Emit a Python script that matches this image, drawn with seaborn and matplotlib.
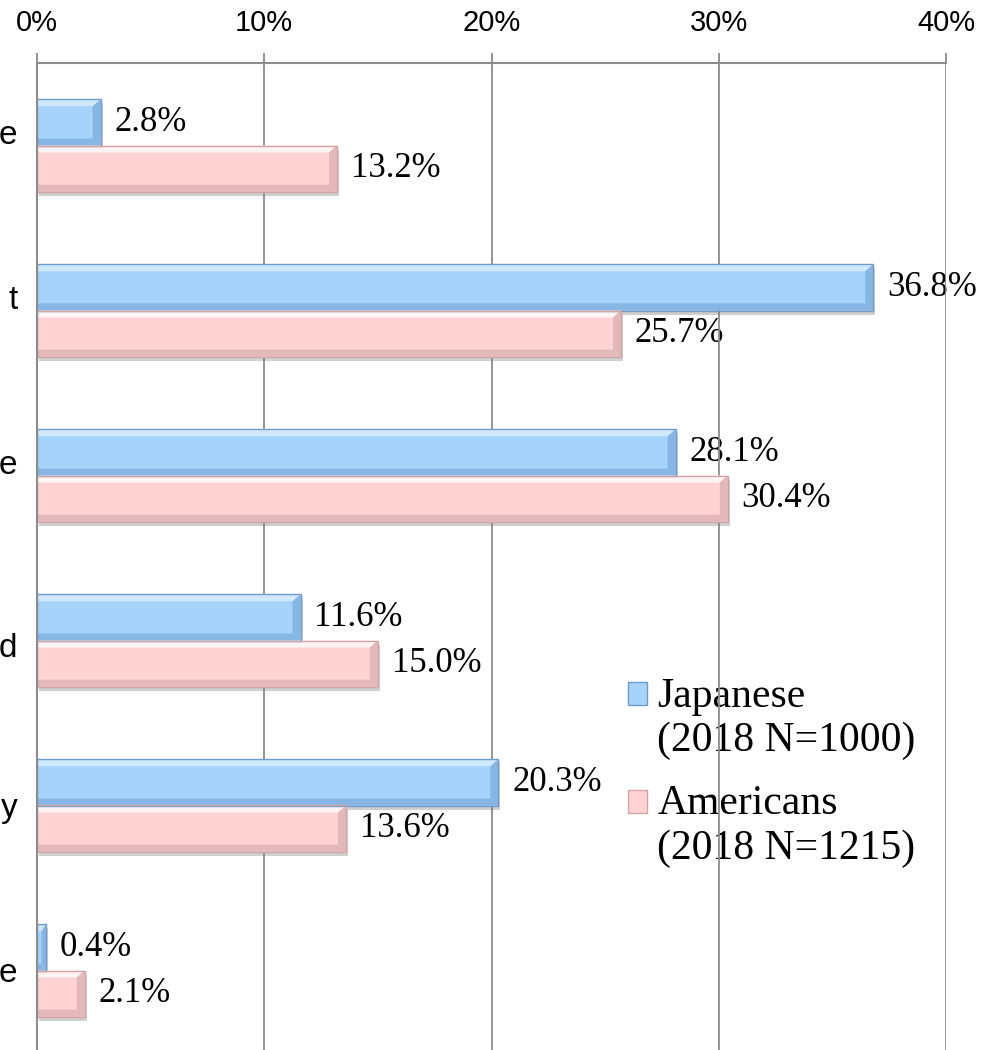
import matplotlib
matplotlib.use("Agg")
import matplotlib.pyplot as plt
import matplotlib.patheffects as pe
from matplotlib.patches import Polygon, Rectangle
from matplotlib.legend_handler import HandlerPatch
from matplotlib.transforms import ScaledTranslation
import seaborn as sns
import pandas as pd

# ---- data -------------------------------------------------------------
categories = ["e", "t", "e", "d", "y", "e"]          # only the last letters are visible
japanese = [2.8, 36.8, 28.1, 11.6, 20.3, 0.4]
americans = [13.2, 25.7, 30.4, 15.0, 13.6, 2.1]
series_names = ["Japanese\n(2018 N=1000)", "Americans\n(2018 N=1215)"]
xtick_values = [0, 10, 20, 30, 40]
xtick_labels = ["0%", "10%", "20%", "30%", "40%"]

cat_ids = [f"c{i}" for i in range(len(categories))]
df = pd.DataFrame({
    "cid": cat_ids * 2,
    "value": japanese + americans,
    "series": [series_names[0]] * len(cat_ids) + [series_names[1]] * len(cat_ids),
})

# ---- style ------------------------------------------------------------
sns.set_theme(style="white")
plt.rcParams["font.family"] = ["Liberation Serif", "DejaVu Serif"]
plt.rcParams["text.color"] = "black"

BLUE = "#a6d3fa"
PINK = "#fdd3d3"
BLUE_EDGE = "#6f9ccb"
PINK_EDGE = "#d2a4a6"
GRID = "#8c8c8c"

fig = plt.figure(figsize=(9.9, 10.5), dpi=100)
ax = fig.add_axes([37 / 990, -3 / 1050, 909 / 990, 990 / 1050])

sns.barplot(data=df, x="value", y="cid", hue="series", order=cat_ids,
            hue_order=series_names, orient="h", width=0.56,
            palette=[BLUE, PINK], saturation=1, edgecolor="none",
            linewidth=0, ax=ax, legend=True)

ax.set_xlim(0, 40)
ax.set_ylim(len(cat_ids) - 0.5, -0.5)
ax.set_xlabel("")
ax.set_ylabel("")

# ---- bevel effect on every bar ----------------------------------------
px_x = 40 / 909.0
px_y = len(cat_ids) / 990.0
shade = {BLUE: ("#cfe8fd", "#6c9dd0", "#88b6e4", BLUE_EDGE),
         PINK: ("#fff3f3", "#c99c9f", "#e3b8ba", PINK_EDGE)}
for container, base in zip(ax.containers, [BLUE, PINK]):
    light, dark, mid, edge = shade[base]
    for bar in container:
        x0, y0 = bar.get_x(), bar.get_y()
        w, h = bar.get_width(), bar.get_height()
        x1, y1 = x0 + w, y0 + h
        dx = min(8 * px_x, w / 2)
        dy = 7 * px_y
        bar.set_path_effects([pe.SimplePatchShadow(offset=(1.5, -3), shadow_rgbFace="#777777", alpha=0.35), pe.Normal()])
        ax.add_patch(Polygon([(x0, y0), (x1, y0), (x1 - dx, y0 + dy), (x0, y0 + dy)],
                             closed=True, facecolor=light, edgecolor="none", zorder=2.1))
        ax.add_patch(Polygon([(x0, y1), (x1, y1), (x1 - dx, y1 - dy), (x0, y1 - dy)],
                             closed=True, facecolor=mid, edgecolor="none", zorder=2.1))
        ax.add_patch(Polygon([(x1, y0), (x1, y1), (x1 - dx, y1 - dy), (x1 - dx, y0 + dy)],
                             closed=True, facecolor=mid, edgecolor="none", zorder=2.1))
        ax.add_patch(Polygon([(x0, y0), (x1, y0), (x1, y1), (x0, y1)], closed=True,
                             facecolor="none", edgecolor=edge, linewidth=1.0, zorder=2.2))
    bar_texts = ax.bar_label(container, fmt="{:.1f}%", padding=10, fontsize=25,
                             family=["Liberation Serif", "DejaVu Serif"], color="black")
    for t in bar_texts:
        t.set_zorder(0.3)

# ---- axes decoration --------------------------------------------------
ax.set_axisbelow(True)
ax.xaxis.tick_top()
ax.set_xticks(xtick_values)
ax.set_xticklabels(xtick_labels, fontsize=21, color="black",
                   family=["Liberation Sans", "DejaVu Sans"])
ax.tick_params(axis="x", which="major", direction="out", length=7.5, width=1.3,
               color=GRID, pad=11, top=True, bottom=False)
ax.grid(axis="x", color=GRID, linewidth=1.3, zorder=0.5)
ax.grid(axis="y", visible=False)

ax.set_yticks([i - 0.5 for i in range(len(cat_ids) + 1)])
ax.set_yticklabels([])
ax.set_yticks(range(len(cat_ids)), minor=True)
ax.set_yticklabels(categories, minor=True, fontsize=24, color="black",
                   family=["Liberation Sans", "DejaVu Sans"])
ax.tick_params(axis="y", which="major", direction="out", length=9, width=1.3, color=GRID)
ax.tick_params(axis="y", which="minor", length=0, pad=14)
v_offsets = [10, 10, 10, -3, 0, 0]
for lab, off in zip(ax.get_yticklabels(minor=True), v_offsets):
    lab.set_transform(lab.get_transform() + ScaledTranslation(0, off / 72, fig.dpi_scale_trans))

for side in ["right", "bottom"]:
    ax.spines[side].set_visible(False)
for side in ["top", "left"]:
    ax.spines[side].set_color(GRID)
    ax.spines[side].set_linewidth(1.5)

# ---- legend -----------------------------------------------------------
class TopAlignedHandler(HandlerPatch):
    def __init__(self, shift, **kw):
        super().__init__(**kw)
        self.shift = shift

    def create_artists(self, legend, orig_handle, xdescent, ydescent,
                       width, height, fontsize, trans):
        p = Rectangle(xy=(-xdescent, -ydescent + self.shift), width=width, height=height)
        self.update_prop(p, orig_handle, legend)
        p.set_transform(trans)
        return [p]

LEG_FS = 30
handles, labels = ax.get_legend_handles_labels()
for hnd, edge in zip(handles, [BLUE_EDGE, PINK_EDGE]):
    hnd.set_edgecolor(edge)
    hnd.set_linewidth(1.0)
handler = TopAlignedHandler(shift=0.6 * LEG_FS)
leg = ax.legend(handles, labels, loc="upper left",
                bbox_to_anchor=(628 / 990, 1 - 677 / 1050), bbox_transform=fig.transFigure,
                frameon=False, fontsize=LEG_FS, handlelength=0.46, handleheight=0.46,
                handletextpad=0.24, labelspacing=0.6, borderpad=0, borderaxespad=0,
                labelcolor="black",
                handler_map={h: handler for h in handles})
leg.set_zorder(0.3)

fig.savefig("out.png", dpi=100)
